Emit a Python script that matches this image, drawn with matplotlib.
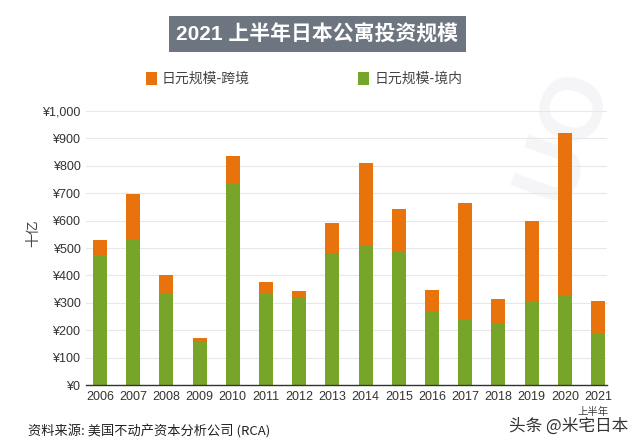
import matplotlib
matplotlib.use("Agg")
import matplotlib.pyplot as plt
from matplotlib.patches import Rectangle

years = ["2006", "2007", "2008", "2009", "2010", "2011", "2012", "2013",
         "2014", "2015", "2016", "2017", "2018", "2019", "2020", "2021"]
domestic = [471, 532, 337, 161, 736, 332, 316, 483, 511, 490, 265, 237, 227, 302, 328, 191]
total = [529, 697, 401, 173, 836, 377, 344, 592, 811, 641, 347, 663, 314, 598, 921, 308]
cross_border = [t - d for t, d in zip(total, domestic)]
yticks = [0, 100, 200, 300, 400, 500, 600, 700, 800, 900, 1000]
ytick_labels = ["¥0", "¥100", "¥200", "¥300", "¥400", "¥500", "¥600", "¥700",
                "¥800", "¥900", "¥1,000"]

ORANGE = "#E8720C"
GREEN = "#77A52A"
LATIN = ["Liberation Sans", "Noto Sans CJK SC", "DejaVu Sans"]
CJK = ["Noto Sans CJK SC", "DejaVu Sans"]

W, H = 640, 446
fig = plt.figure(figsize=(W / 100, H / 100), dpi=100)
fig.patch.set_facecolor("white")

def fx(px):
    return px / W

def fy(py):
    return 1 - py / H

# faint watermark logo (behind the chart)
fig.text(fx(565), fy(135), "UO", fontsize=64, color="#f5f5f7", rotation=70,
         ha="center", va="center", family=LATIN, fontweight="bold", zorder=0)

ax = fig.add_axes([fx(86), fy(385), fx(607) - fx(86), fy(111) - fy(385)])
ax.set_zorder(2)
ax.set_facecolor("none")
x = list(range(len(years)))
ax.bar(x, domestic, width=0.42, color=GREEN, zorder=3)
ax.bar(x, cross_border, bottom=domestic, width=0.42, color=ORANGE, zorder=3)

ax.set_xlim(-0.42, 15.27)
ax.set_ylim(0, 1000)
ax.set_yticks(yticks)
ax.set_yticklabels(ytick_labels, family=LATIN, fontsize=9, color="#333333")
ax.set_xticks(x)
ax.set_xticklabels(years, family=LATIN, fontsize=9, color="#333333")
ax.tick_params(axis="both", length=0)
ax.tick_params(axis="y", pad=4)
ax.tick_params(axis="x", pad=4)
ax.grid(axis="y", color="#e8e8e8", linewidth=0.8, zorder=0)
for s in ["top", "right", "left"]:
    ax.spines[s].set_visible(False)
ax.spines["bottom"].set_color("#333333")
ax.spines["bottom"].set_linewidth(1.0)
ax.spines["bottom"].set_zorder(4)

ax.set_ylabel("十亿", family=CJK, fontsize=10, color="#444444")
axw = fx(607) - fx(86)
axh = fy(111) - fy(385)
ax.yaxis.set_label_coords((fx(40) - fx(86)) / axw, (fy(233) - fy(385)) / axh)

# title box
fig.patches.append(Rectangle((fx(169), fy(52)), fx(466) - fx(169), fy(16) - fy(52),
                             transform=fig.transFigure, facecolor="#6d7680",
                             edgecolor="none", zorder=1))
fig.text(fx(317), fy(34), "2021 上半年日本公寓投资规模", family=LATIN, fontsize=15,
         fontweight="bold", color="white", ha="center", va="center", zorder=2)

# legend
fig.patches.append(Rectangle((fx(146), fy(85)), fx(11), fy(72) - fy(85),
                             transform=fig.transFigure, facecolor=ORANGE,
                             edgecolor="none"))
fig.text(fx(162), fy(78.5), "日元规模-跨境", family=CJK, fontsize=10,
         color="#444444", ha="left", va="center")
fig.patches.append(Rectangle((fx(358), fy(85)), fx(11), fy(72) - fy(85),
                             transform=fig.transFigure, facecolor=GREEN,
                             edgecolor="none"))
fig.text(fx(375), fy(78.5), "日元规模-境内", family=CJK, fontsize=10,
         color="#444444", ha="left", va="center")

# footer texts
fig.text(fx(593), fy(412), "上半年", family=CJK, fontsize=7.5, color="#444444",
         ha="center", va="center", zorder=3)
fig.text(fx(28), fy(432), "资料来源: 美国不动产资本分析公司 (RCA)", family=CJK,
         fontsize=9.5, color="#222222", ha="left", va="center", zorder=3)
fig.text(fx(628), fy(426), "头条 @米宅日本", family=CJK, fontsize=12,
         color="#333333", ha="right", va="center", zorder=3)

fig.savefig("out.png", dpi=100, facecolor="white")
